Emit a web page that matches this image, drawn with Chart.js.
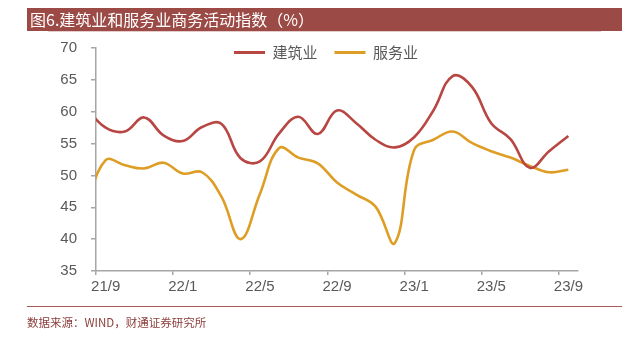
<!DOCTYPE html>
<html><head><meta charset="utf-8">
<script src="https://cdn.jsdelivr.net/npm/chart.js@4/dist/chart.umd.min.js"></script>
<style>
html,body{margin:0;padding:0;background:#fff;width:627px;height:339px;overflow:hidden;}
#wrap{position:relative;width:627px;height:339px;}
#title{position:absolute;left:27px;top:8px;width:595px;height:23px;background:#9B4A46;color:#fff;font:16px "Noto Sans CJK SC",sans-serif;line-height:23px;padding-left:3px;box-sizing:border-box;white-space:nowrap;}
#thin{position:absolute;left:48px;top:31px;width:553px;height:1px;background:#E6CCCA;}
#rule{position:absolute;left:27px;top:306px;width:595px;height:1px;background:#A85A57;}
#src{position:absolute;left:27px;top:314px;font:11.5px "Noto Sans CJK SC",sans-serif;color:#8B3E3B;white-space:nowrap;}
#c{position:absolute;left:0;top:0;}
</style></head>
<body>
<div id="wrap">
  <canvas id="c" width="627" height="339"></canvas>
  <div id="title">图6.建筑业和服务业商务活动指数（%）</div>
  <div id="thin"></div>
  <div id="rule"></div>
  <div id="src">数据来源：WIND，财通证券研究所</div>
</div>
<script>
// ---- data ----
const months = ['21/8','21/9','21/10','21/11','21/12','22/1','22/2','22/3','22/4','22/5','22/6','22/7','22/8','22/9','22/10','22/11','22/12','23/1','23/2','23/3','23/4','23/5','23/6','23/7','23/8','23/9'];
const construction = [60.5,57.5,56.9,59.1,56.3,55.4,57.6,58.1,52.7,52.2,56.6,59.2,56.5,60.2,58.2,55.6,54.4,56.0,60.2,65.6,63.9,58.2,55.7,51.2,53.8,56.2];
const services = [45.2,52.4,51.6,51.1,52.0,50.3,50.5,46.7,40.0,47.1,54.3,52.8,51.9,48.9,47.0,45.1,39.4,54.0,55.6,56.9,55.1,53.8,52.8,51.5,50.5,50.9];
const tickLabels = ['21/9','22/1','22/5','22/9','23/1','23/5','23/9'];
const firstShown = '21/9';
const lastShown = '23/9';
const seriesNames = ['建筑业','服务业'];

const base = months.indexOf(firstShown);
const toPts = arr => arr.map((v,i)=>({x:i-base, y:v}));
const xMin = -0.5, xMax = months.indexOf(lastShown) - base + 0.5;
const tickVals = tickLabels.map(l => months.indexOf(l) - base - 0.5);

const legendPlace = {
  id:'legendPlace',
  beforeLayout(chart){
    const lg = chart.legend;
    if (lg && !lg._patched){
      const fit = lg.fit;
      lg.fit = function(){ fit.call(this); this._h = this.height; this.height = 0; };
      lg._patched = true;
    }
  },
  afterLayout(chart, args, opts){
    const lg = chart.legend; if(!lg) return;
    const w = lg.right - lg.left;
    lg.left = opts.centerX - w/2; lg.right = lg.left + w;
    lg.top = opts.top; lg.height = lg._h; lg.bottom = lg.top + lg._h;
  }
};

Chart.defaults.font.family = '"Liberation Sans", "Noto Sans CJK SC", sans-serif';
const AX = '#A6A6A6';
new Chart(document.getElementById('c'), {
  type:'line',
  data:{datasets:[
    {label:seriesNames[0], data:toPts(construction), borderColor:'#B84642', backgroundColor:'#B84642', borderWidth:2.6, pointRadius:0, tension:0.4},
    {label:seriesNames[1], data:toPts(services), borderColor:'#DE9E26', backgroundColor:'#DE9E26', borderWidth:2.6, pointRadius:0, tension:0.4}
  ]},
  options:{
    responsive:false, animation:false, devicePixelRatio:1,
    layout:{padding:{left:0, right:49, top:48, bottom:0}},
    plugins:{
      tooltip:{enabled:false},
      legendPlace:{centerX:326, top:28},
      legend:{
        position:'top',
        labels:{
          boxWidth:31, boxHeight:3, padding:17, color:'#595959',
          font:{family:'"Noto Sans CJK SC", sans-serif', size:15},
          generateLabels(chart){
            return Chart.defaults.plugins.legend.labels.generateLabels(chart).map(l=>({...l, lineWidth:0}));
          }
        }
      }
    },
    scales:{
      x:{
        type:'linear', min:xMin, max:xMax,
        afterBuildTicks(s){ s.ticks = tickVals.map(v=>({value:v})); },
        afterFit(s){ s.height = 68; },
        ticks:{ autoSkip:false, maxRotation:0, labelOffset:9.7, padding:3, color:'#595959', font:{size:15},
          callback:(v,i)=>tickLabels[i] },
        grid:{ drawOnChartArea:false, drawTicks:true, tickLength:4, color:AX, lineWidth:1.5 },
        border:{ color:AX, width:1.5 }
      },
      y:{
        min:35, max:70,
        afterFit(s){ s.width = 96; },
        ticks:{ stepSize:5, padding:14, color:'#595959', font:{size:15} },
        grid:{ drawOnChartArea:false, drawTicks:true, tickLength:5, color:AX, lineWidth:1.5 },
        border:{ color:AX, width:1.5 }
      }
    }
  },
  plugins:[legendPlace]
});
</script>
</body></html>
